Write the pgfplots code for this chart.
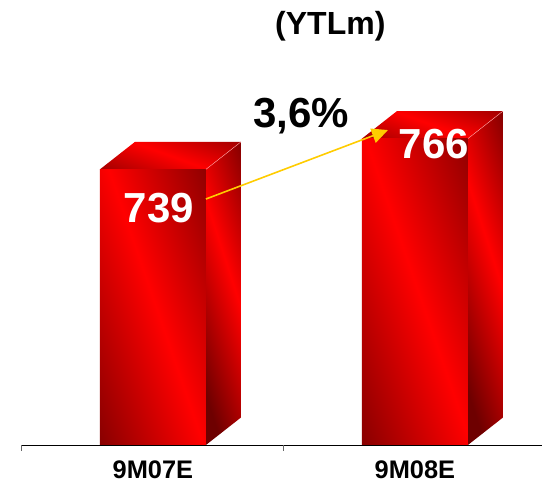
\documentclass[border=0pt]{standalone}
\usepackage{fontspec}
\setmainfont{Liberation Sans}
\usepackage{pgfplots}
\pgfplotsset{compat=1.18}
\usetikzlibrary{arrows.meta}
\definecolor{darkred}{RGB}{110,0,0}
\definecolor{brightred}{RGB}{255,0,0}
\definecolor{arrowgold}{RGB}{255,204,0}
% gradients for the three visible faces of a column
\pgfdeclareverticalshading{frontface}{100bp}{color(0bp)=(darkred); color(9bp)=(darkred); color(49bp)=(brightred); color(89bp)=(darkred); color(100bp)=(darkred)}
\pgfdeclareverticalshading{sideface}{100bp}{color(0bp)=(darkred); color(14bp)=(darkred); color(44bp)=(brightred); color(74bp)=(darkred); color(100bp)=(darkred)}
\pgfdeclareverticalshading{topface}{100bp}{color(0bp)=(darkred); color(50bp)=(brightred); color(100bp)=(darkred)}
\tikzset{
  frontshade/.style={draw=none,shading=frontface,shading angle=109},
  sideshade/.style={draw=none,shading=sideface,shading angle=108},
  topshade/.style={draw=none,shading=topface,shading angle=160},
  value/.style={font=\fontsize{42}{42}\selectfont\bfseries},
}
\begin{document}
\begin{tikzpicture}
\useasboundingbox (-21.4pt,-41pt) rectangle (520.6pt,445pt);
\begin{axis}[
  at={(0pt,0pt)},anchor=south west,
  scale only axis,width=520.6pt,height=445pt,
  xmin=-0.502,xmax=1.485,ymin=497.2,ymax=887.6,
  clip=false,
  axis y line=none,axis x line=bottom,
  axis line style={-,black,line width=0.9pt},
  xtick={0,1},xticklabels={9M07E,9M08E},
  major tick length=0pt,
  extra x ticks={-0.5,0.5},
  extra x tick labels={},
  extra x tick style={major tick length=6pt,tick style={gray!80!black,line width=0.9pt},tick align=outside},
  ytick=\empty,
  xticklabel style={font=\fontsize{25.4}{25.4}\selectfont\bfseries,yshift=-12pt},
]
% first column: side, top, front
\addplot[sideshade] coordinates {(0.2023,497.2)(0.3359,521.3)(0.3359,763.1)(0.2023,739)} -- cycle;
\addplot[topshade] coordinates {(-0.2023,739)(0.2023,739)(0.3359,763.1)(-0.0687,763.1)} -- cycle;
\addplot[frontshade] coordinates {(-0.2023,497.2)(0.2023,497.2)(0.2023,739)(-0.2023,739)} -- cycle;
\addplot[red!35!white,line width=0.4pt] coordinates {(0.2023,739)(0.3359,763.1)};
% second column: side, top, front
\addplot[sideshade] coordinates {(1.2023,497.2)(1.3359,521.3)(1.3359,790.1)(1.2023,766)} -- cycle;
\addplot[topshade] coordinates {(0.7977,766)(1.2023,766)(1.3359,790.1)(0.9313,790.1)} -- cycle;
\addplot[frontshade] coordinates {(0.7977,497.2)(1.2023,497.2)(1.2023,766)(0.7977,766)} -- cycle;
\addplot[red!35!white,line width=0.4pt] coordinates {(1.2023,766)(1.3359,790.1)};
% growth arrow between the columns
\addplot[arrowgold,line width=1.6pt,-{Triangle[length=16pt,width=15pt]}] coordinates {(0.2023,713)(0.897,773.5)};
\node[value,white] at (axis cs:0.022,705) {739};
\node[value,white] at (axis cs:1.072,761.2) {766};
\node[value,black] at (axis cs:0.565,785.8) {3,6\%};
\node[font=\fontsize{32}{32}\selectfont\bfseries,black] at (axis cs:0.677,864.7) {(YTLm)};
\end{axis}
\end{tikzpicture}
\end{document}
